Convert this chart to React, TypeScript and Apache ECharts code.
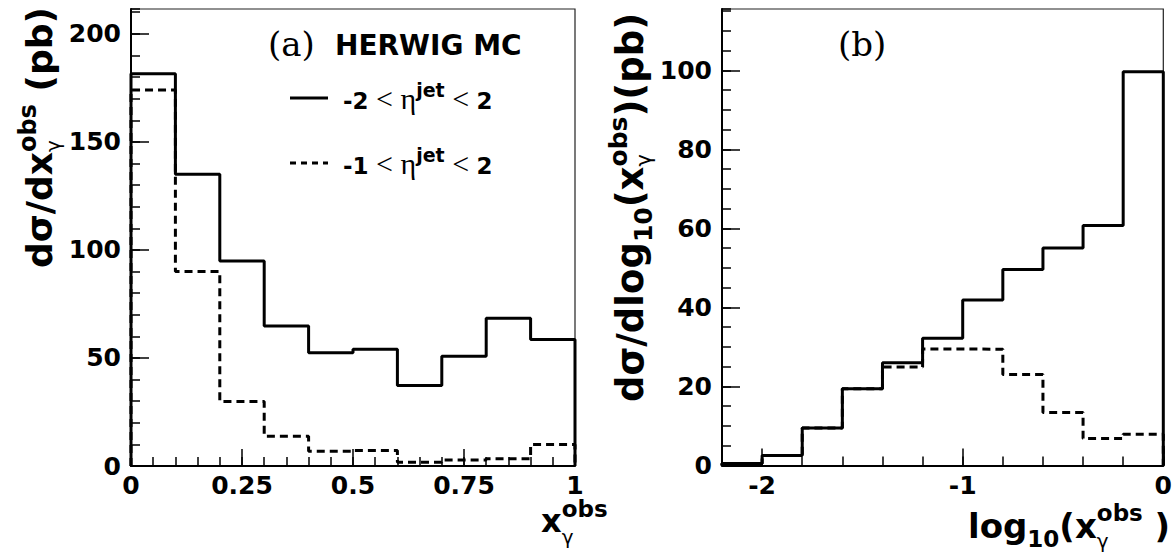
import React, { useEffect, useRef } from "react";
import * as echarts from "echarts";

// ---------- data ----------
const leftEdges = [0, 0.1, 0.2, 0.3, 0.4, 0.5, 0.6, 0.7, 0.8, 0.9, 1.0];
const leftSolid = [181.5, 135, 94.9, 64.8, 52.4, 54.0, 37.2, 50.8, 68.4, 58.6];
const leftDashed = [174, 90, 29.8, 13.8, 6.8, 7.2, 1.7, 2.8, 3.3, 10.0];

const rightEdges = [-2.2, -2.0, -1.8, -1.6, -1.4, -1.2, -1.0, -0.8, -0.6, -0.4, -0.2, 0];
const rightSolid = [0.5, 2.5, 9.5, 19.4, 26.0, 32.2, 41.9, 49.6, 55.0, 60.7, 99.6];
const rightDashed = [0.5, 2.5, 9.5, 19.4, 24.9, 29.5, 29.4, 23.0, 13.4, 6.8, 7.9];

const leftXLabels = [0, 0.25, 0.5, 0.75, 1];
const leftYLabels = [0, 50, 100, 150, 200];
const rightXLabels = [-2, -1, 0];
const rightYLabels = [0, 20, 40, 60, 80, 100];

const leftRange = { xMin: 0, xMax: 1, yMin: 0, yMax: 211.5, xMinor: 0.05, yMinor: 10 };
const rightRange = { xMin: -2.2, xMax: 0, yMin: 0, yMax: 115.5, xMinor: 0.2, yMinor: 5 };

const SANS = "DejaVu Sans";
const SERIF = "Liberation Serif";

function stepPoints(edges: number[], vals: number[]) {
  const pts: number[][] = [[edges[0], 0]];
  vals.forEach((v, i) => {
    pts.push([edges[i], v]);
    pts.push([edges[i + 1], v]);
  });
  pts.push([edges[edges.length - 1], 0]);
  return pts;
}

// ---------- text-run helper ----------
type Piece = {
  t?: string;
  size?: number;
  family?: string;
  weight?: string;
  dy?: number;
  sup?: Piece;
  sub?: Piece;
};

let ctx: CanvasRenderingContext2D | null = null;
function measure(p: Piece) {
  if (!ctx) ctx = document.createElement("canvas").getContext("2d");
  ctx!.font = `${p.weight || "bold"} ${p.size}px "${p.family || SANS}"`;
  return ctx!.measureText(p.t || "").width;
}
function textEl(p: Piece, x: number) {
  return {
    type: "text",
    x,
    y: (p.dy || 0) - 0.35 * (p.size || 20),
    style: {
      text: p.t,
      fontSize: p.size,
      fontFamily: p.family || SANS,
      fontWeight: p.weight || "bold",
      fill: "#000",
      align: "left",
      verticalAlign: "middle",
    },
  };
}
function run(pieces: Piece[]) {
  const children: any[] = [];
  let x = 0;
  pieces.forEach((p) => {
    if (p.sup || p.sub) {
      let w = 0;
      if (p.sup) {
        children.push(textEl(p.sup, x));
        w = Math.max(w, measure(p.sup));
      }
      if (p.sub) {
        children.push(textEl(p.sub, x));
        w = Math.max(w, measure(p.sub));
      }
      x += w;
    } else {
      children.push(textEl(p, x));
      x += measure(p);
    }
  });
  return children;
}

export default function App() {
  const ref = useRef<HTMLDivElement>(null);
  useEffect(() => {
    document.body.style.margin = "0";
    const chart = echarts.init(ref.current!, null, { renderer: "svg" });

    const labelStyle = { fontFamily: SANS, fontWeight: "bold", fontSize: 25, color: "#000" };
    const tickLine = { color: "#000", width: 1.5 };

    const majorAxis = (dim: "x" | "y", gridIndex: number, min: number, max: number, labels: number[], tickLen: number, margin: number) => ({
      type: "value",
      gridIndex,
      min,
      max,
      position: dim === "x" ? "bottom" : "left",
      axisLine: { show: true, onZero: false, lineStyle: { color: "#000", width: 2 } },
      axisTick: { show: true, inside: true, length: tickLen, customValues: labels, lineStyle: tickLine },
      axisLabel: { show: true, customValues: labels, margin, ...labelStyle },
      splitLine: { show: false },
    });
    const minorAxis = (dim: "x" | "y", gridIndex: number, min: number, max: number, interval: number, tickLen: number) => ({
      type: "value",
      gridIndex,
      min,
      max,
      interval,
      position: dim === "x" ? "bottom" : "left",
      axisLine: { show: false, onZero: false },
      axisTick: { show: true, inside: true, length: tickLen, lineStyle: tickLine },
      axisLabel: { show: false },
      splitLine: { show: false },
    });

    const solid = { color: "#000", width: 3 };
    const dashed = { color: "#000", width: 3, type: [8, 5] };
    const lineSeries = (xi: number, yi: number, data: number[][], style: any, z: number) => ({
      type: "line",
      xAxisIndex: xi,
      yAxisIndex: yi,
      data,
      showSymbol: false,
      symbol: "none",
      lineStyle: style,
      z,
      clip: false,
    });

    const leftYTitle = {
      type: "group",
      x: 52,
      y: 268,
      rotation: Math.PI / 2,
      children: run([
        { t: "dσ/dx", size: 36 },
        { sup: { t: "obs", size: 24, dy: -16 }, sub: { t: "γ", size: 20, weight: "normal", dy: 8 } },
        { t: " (pb)", size: 36 },
      ]),
    };
    const rightYTitle = {
      type: "group",
      x: 643,
      y: 402,
      rotation: Math.PI / 2,
      children: run([
        { t: "dσ/dlog", size: 37 },
        { t: "10", size: 25, dy: 9 },
        { t: "(x", size: 37 },
        { sup: { t: "obs", size: 25, dy: -16 }, sub: { t: "γ", size: 21, weight: "normal", dy: 8 } },
        { t: ")(pb)", size: 37 },
      ]),
    };
    const leftXTitle = {
      type: "group",
      x: 541,
      y: 532,
      children: run([
        { t: "x", size: 32 },
        { sup: { t: "obs", size: 23, dy: -15 }, sub: { t: "γ", size: 20, weight: "normal", dy: 12 } },
      ]),
    };
    const rightXTitle = {
      type: "group",
      x: 968,
      y: 538,
      children: run([
        { t: "log", size: 34 },
        { t: "10", size: 23, dy: 9 },
        { t: "(x", size: 34 },
        { sup: { t: "obs", size: 23, dy: -17 }, sub: { t: "γ", size: 20, weight: "normal", dy: 10 } },
        { t: " )", size: 34 },
      ]),
    };
    const legendRow = (first: string, y: number) => ({
      type: "group",
      x: 343,
      y,
      children: run([
        { t: first, size: 23 },
        { t: " < ", size: 30, family: SERIF, weight: "normal" },
        { t: "η", size: 30, family: SERIF, weight: "normal" },
        { t: "jet", size: 19, dy: -12 },
        { t: " < ", size: 30, family: SERIF, weight: "normal" },
        { t: "2", size: 23 },
      ]),
    });

    const option: any = {
      animation: false,
      backgroundColor: "#fff",
      grid: [
        { left: 131, top: 9, width: 444, height: 457, show: true, borderColor: "#222", borderWidth: 1.2 },
        { left: 722, top: 9, width: 443, height: 456.5, show: true, borderColor: "#222", borderWidth: 1.2 },
      ],
      xAxis: [
        majorAxis("x", 0, leftRange.xMin, leftRange.xMax, leftXLabels, 17, 7),
        minorAxis("x", 0, leftRange.xMin, leftRange.xMax, leftRange.xMinor, 9),
        majorAxis("x", 1, rightRange.xMin, rightRange.xMax, rightXLabels, 17, 7),
        minorAxis("x", 1, rightRange.xMin, rightRange.xMax, rightRange.xMinor, 9),
      ],
      yAxis: [
        majorAxis("y", 0, leftRange.yMin, leftRange.yMax, leftYLabels, 18, 10),
        minorAxis("y", 0, leftRange.yMin, leftRange.yMax, leftRange.yMinor, 9),
        majorAxis("y", 1, rightRange.yMin, rightRange.yMax, rightYLabels, 18, 10),
        minorAxis("y", 1, rightRange.yMin, rightRange.yMax, rightRange.yMinor, 9),
      ],
      series: [
        lineSeries(0, 0, stepPoints(leftEdges, leftDashed), dashed, 2),
        lineSeries(0, 0, stepPoints(leftEdges, leftSolid), solid, 3),
        lineSeries(2, 2, stepPoints(rightEdges, rightDashed), dashed, 2),
        lineSeries(2, 2, stepPoints(rightEdges, rightSolid), solid, 3),
      ],
      graphic: [
        leftYTitle,
        rightYTitle,
        leftXTitle,
        rightXTitle,
        {
          type: "text",
          x: 268,
          y: 44,
          style: { text: "(a)", fontSize: 34, fontFamily: "DejaVu Serif", fill: "#000", verticalAlign: "middle" },
        },
        {
          type: "text",
          x: 838,
          y: 44,
          style: { text: "(b)", fontSize: 34, fontFamily: "DejaVu Serif", fill: "#000", verticalAlign: "middle" },
        },
        {
          type: "text",
          x: 335,
          y: 45,
          style: { text: "HERWIG MC", fontSize: 28, fontFamily: SANS, fontWeight: "bold", fill: "#000", verticalAlign: "middle" },
        },
        { type: "line", shape: { x1: 290, y1: 98, x2: 328, y2: 98 }, style: { stroke: "#000", lineWidth: 3 } },
        { type: "line", shape: { x1: 290, y1: 163, x2: 328, y2: 163 }, style: { stroke: "#000", lineWidth: 3, lineDash: [6, 5] } },
        legendRow("-2", 109),
        legendRow("-1", 174),
      ],
    };
    chart.setOption(option);
    return () => chart.dispose();
  }, []);
  return <div ref={ref} style={{ position: "fixed", left: 0, top: 0, width: 1175, height: 552, background: "#fff" }} />;
}
